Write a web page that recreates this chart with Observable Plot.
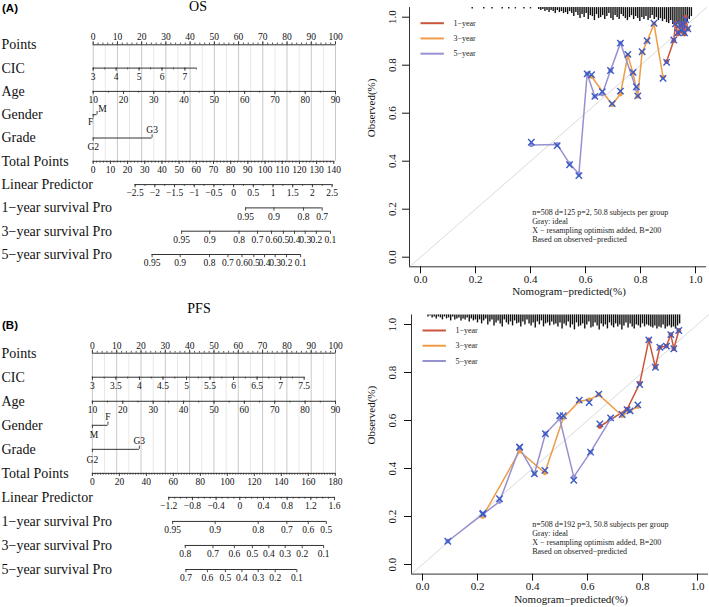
<!DOCTYPE html>
<html>
<head>
<meta charset="utf-8">
<script src="https://cdn.jsdelivr.net/npm/d3@7"></script>
<script src="https://cdn.jsdelivr.net/npm/@observablehq/plot@0.6"></script>
<style>
  html, body { margin: 0; padding: 0; background: #fff; }
  #fig { position: relative; width: 709px; height: 607px; overflow: hidden; background: #fff; }
  .panel { position: absolute; }
  .panel svg { display: block; overflow: visible; }
  .tag { position: absolute; font-family: "Liberation Sans", Arial, sans-serif; font-weight: bold; font-size: 11.5px; line-height: 12px; color: #000; }
  .ttl { position: absolute; font-family: "Liberation Serif", "Times New Roman", serif; font-size: 14px; line-height: 14px; text-align: center; color: #000; }
</style>
</head>
<body>
<div id="fig"></div>
<script>
const SERIF = "'Liberation Serif', 'Times New Roman', serif";
const fmt = d3.format("~g");

// ================= DATA =================
const nomoRows = ["Points","CIC","Age","Gender","Grade","Total Points","Linear Predictor","1\u2212year survival Pro","3\u2212year survival Pro","5\u2212year survival Pro"];

// ---- (A) OS nomogram ----
const osPointsLabels = [0,10,20,30,40,50,60,70,80,90,100];
const osCicLabels = [3,4,5,6,7];
const osCicValueRange = [3, 7.5];
const osCicPointRange = [0, 42.6];
const osAgeLabels = [10,20,30,40,50,60,70,80,90];
const osAgeValueRange = [10, 90];
const osAgePointRange = [0, 100];
const osGenderLabels = ["F","M"];
const osGenderPoints = [0, 1.6];
const osGradeLabels = ["G2","G3"];
const osGradePoints = [0, 24.3];
const osTotalLabels = [0,10,20,30,40,50,60,70,80,90,100,110,120,130,140];
const osTotalValueRange = [0, 140];
const osTotalPointRange = [0, 99.3];
const osLpLabels = [-2.5,-2,-1.5,-1,-0.5,0,0.5,1,1.5,2,2.5];
const osLpValueRange = [-2.5, 2.5];
const osLpPointRange = [17.3, 98.6];
const os1yLabels = [0.95,0.9,0.8,0.7];
const os1yPoints = [62.9,74.6,86.8,94.5];
const os3yLabels = [0.95,0.9,0.8,0.7,0.6,0.5,0.4,0.3,0.2,0.1];
const os3yPoints = [36.5,48.1,60.2,67.8,73.6,78.5,83.1,87.5,92.1,97.9];
const os5yLabels = [0.95,0.9,0.8,0.7,0.6,0.5,0.4,0.3,0.2,0.1];
const os5yPoints = [24.3,35.9,48.0,55.6,61.4,66.3,70.7,75.1,79.8,85.6];

// ---- (B) PFS nomogram ----
const pfsPointsLabels = [0,10,20,30,40,50,60,70,80,90,100];
const pfsCicLabels = [3,3.5,4,4.5,5,5.5,6,6.5,7,7.5];
const pfsCicValueRange = [3, 7.5];
const pfsCicPointRange = [0, 87.1];
const pfsAgeLabels = [10,20,30,40,50,60,70,80,90];
const pfsAgeValueRange = [10, 90];
const pfsAgePointRange = [0, 100];
const pfsGenderLabels = ["M","F"];
const pfsGenderPoints = [0, 6.4];
const pfsGradeLabels = ["G2","G3"];
const pfsGradePoints = [0, 19.3];
const pfsTotalLabels = [0,20,40,60,80,100,120,140,160,180];
const pfsTotalValueRange = [0, 180];
const pfsTotalPointRange = [0, 99.9];
const pfsLpLabels = [-1.2,-0.8,-0.4,0,0.4,0.8,1.2,1.6];
const pfsLpValueRange = [-1.2, 1.6];
const pfsLpPointRange = [31.4, 99.6];
const pfs1yLabels = [0.95,0.9,0.8,0.7,0.6,0.5];
const pfs1yPoints = [33.0,50.5,68.2,80.0,88.8,96.2];
const pfs3yLabels = [0.8,0.7,0.6,0.5,0.4,0.3,0.2,0.1];
const pfs3yPoints = [38.2,49.6,58.4,65.8,72.6,79.3,86.3,95.1];
const pfs5yLabels = [0.7,0.6,0.5,0.4,0.3,0.2,0.1];
const pfs5yPoints = [38.5,47.3,54.7,61.5,68.2,75.2,84.1];

// ---- calibration curves ----
const calSeries = ["1\u2212year","3\u2212year","5\u2212year"];
const calTicks = [0,0.2,0.4,0.6,0.8,1.0];

// OS
const os1yPred = [0.895,0.921,0.927,0.936,0.945,0.950,0.956,0.960,0.964,0.972];
const os1yObs  = [0.815,0.903,0.975,0.930,0.972,0.940,0.975,0.930,1.000,0.950];
const os1yCorr = [0.812,0.905,0.972,0.935,0.968,0.945,0.970,0.935,0.990,0.952];
const os3yPred = [0.622,0.697,0.727,0.754,0.773,0.790,0.806,0.824,0.849,0.882];
const os3yObs  = [0.753,0.635,0.680,0.840,0.767,0.670,0.854,0.900,0.972,0.750];
const os3yCorr = [0.760,0.640,0.692,0.845,0.770,0.672,0.856,0.902,0.975,0.745];
const os5yPred = [0.403,0.497,0.542,0.576,0.606,0.634,0.661,0.691,0.727,0.785];
const os5yObs  = [0.468,0.470,0.390,0.347,0.764,0.670,0.680,0.778,0.892,0.700];
const os5yCorr = [0.479,0.465,0.385,0.340,0.764,0.670,0.690,0.778,0.892,0.710];
const osSparsePred = [0.188,0.230,0.260,0.297,0.321,0.345,0.376,0.400];
const osSpikeStart = 0.43, osSpikeBin = 0.0075;
const osSpikeCounts = [2,3,2,4,3,5,3,4,6,3,5,4,6,5,7,4,
  6,9,5,8,11,7,10,6,12,8,9,13,7,11,10,8,12,9,6,11,13,8,10,12,7,9,11,13,10,8,12,9,11,14,10,12,9,13,11,8,12,10,13,11,
  14,12,15,16,13,17,18,16,17,18,17,15,14,12,9];

// PFS
const pfs1yPred = [0.645,0.744,0.790,0.823,0.847,0.863,0.887,0.903,0.914,0.932];
const pfs1yObs  = [0.575,0.647,0.755,0.936,0.822,0.905,0.910,0.958,0.899,0.975];
const pfs1yCorr = [0.586,0.645,0.750,0.936,0.822,0.905,0.910,0.958,0.899,0.975];
const pfs3yPred = [0.219,0.353,0.445,0.512,0.570,0.606,0.641,0.726,0.755,0.783];
const pfs3yObs  = [0.200,0.472,0.382,0.611,0.680,0.686,0.708,0.620,0.640,0.658];
const pfs3yCorr = [0.210,0.489,0.392,0.620,0.685,0.675,0.710,0.625,0.640,0.665];
const pfs5yPred = [0.092,0.220,0.280,0.353,0.407,0.447,0.499,0.550,0.611,0.684];
const pfs5yObs  = [0.097,0.210,0.262,0.485,0.378,0.545,0.607,0.365,0.468,0.607];
const pfs5yCorr = [0.097,0.213,0.274,0.489,0.378,0.545,0.620,0.351,0.468,0.611];
const pfsSparsePred = [];
const pfsSpikeStart = 0.02, pfsSpikeBin = 0.0075;
const pfsSpikeCounts = [2,1,3,2,4,2,3,5,2,4,3,6,2,5,4,3,6,4,5,3,7,4,6,5,
  8,5,9,6,4,10,7,5,11,8,6,9,12,5,8,10,7,11,6,9,8,12,7,10,5,9,11,8,13,7,10,6,12,9,8,11,7,10,9,
  12,8,14,9,11,7,13,10,15,8,12,11,9,14,10,7,13,12,8,11,15,9,12,10,14,8,11,13,9,12,10,15,11,8,13,9,12,14,10,11,13,9,12,10,11,
  12,13,11,14,12,13,10,14,12,11,13,12,14,11,9];

// ================= BUILDERS =================
function buildNomo(axes, rows) {
  const rowIndex = new Map(rows.map((r, i) => [r, i]));
  const lines = [], major = [], minor = [], labels = [];
  for (const a of axes) {
    const i = rowIndex.get(a.row);
    let pos;
    if (a.domain) {
      const s = d3.scaleLinear(a.domain, a.range);
      pos = a.labels.map(s);
      lines.push({y: i, x1: s(a.domain[0]), x2: s(a.domain[1])});
      if (a.minor) d3.range(a.domain[0], a.domain[1] + 1e-9, a.minor).forEach(v => minor.push({x: s(v), y: i, side: a.side}));
    } else {
      pos = a.at;
      lines.push({y: i, x1: d3.min(pos), x2: d3.max(pos)});
    }
    a.labels.forEach((lab, k) => {
      const side = a.sides ? a.sides[k] : a.side;
      const dy = side === "above" ? (a.aboveDy ?? -8) : (a.belowDy ?? 8.7);
      const dxPx = a.dxs ? a.dxs[k] : 0;
      major.push({x: pos[k], y: i, side});
      labels.push({x: pos[k], y: i, side, dy, dxPx, text: typeof lab === "number" ? fmt(lab) : lab});
    });
  }
  return {lines, major, minor, labels};
}

function drawNomo(axes, rows, o) {
  const b = buildNomo(axes, rows);
  const rowPx = (o.yRange[1] - o.yRange[0]) / (rows.length - 1);
  const ptPx = (o.xRange[1] - o.xRange[0]) / 100;
  const L = px => px / rowPx;
  const dir = d => d.side === "above" ? -1 : 1;
  const totalIdx = rows.indexOf("Total Points");
  const gridMajor = d3.range(0, 100.001, 10);
  const gridMinor = d3.range(5, 100, 10);
  const labelMarks = Array.from(d3.group(b.labels, d => d.dy), ([dy, arr]) =>
    Plot.text(arr, {x: d => d.x + d.dxPx / ptPx, y: "y", text: "text", dy, fontSize: 9.5, fill: "#111", fontFamily: SERIF}));
  return Plot.plot({
    width: o.width, height: o.height,
    marginLeft: 0, marginRight: 0, marginTop: 0, marginBottom: 0,
    x: {domain: [0, 100], range: o.xRange, axis: null},
    y: {domain: [0, rows.length - 1], range: o.yRange, axis: null},
    style: {fontFamily: SERIF, background: "transparent", color: "#111"},
    marks: [
      Plot.ruleX(gridMinor, {x: d => d, y1: 0, y2: totalIdx, stroke: "#e8e8e8", strokeWidth: 1}),
      Plot.ruleX(gridMajor, {x: d => d, y1: 0, y2: totalIdx, stroke: "#c9c9c9", strokeWidth: 1}),
      Plot.ruleY(b.lines, {y: "y", x1: "x1", x2: "x2", stroke: "#333", strokeWidth: 1}),
      Plot.ruleX(b.minor, {x: "x", y1: "y", y2: d => d.y + dir(d) * L(1.8), stroke: "#333", strokeWidth: 0.8}),
      Plot.ruleX(b.major, {x: "x", y1: "y", y2: d => d.y + dir(d) * L(3.2), stroke: "#333", strokeWidth: 0.9}),
      ...labelMarks,
      Plot.text(rows, {y: (d, i) => i, text: d => d, frameAnchor: "left", dx: 1, textAnchor: "start", fontSize: 14, fill: "#111", fontFamily: SERIF})
    ]
  });
}

function drawCal(d, o) {
  const colors = ["#C9553A", "#EE9C45", "#9692D0"];
  const rows = [];
  d.series.forEach((s, si) => s.pred.forEach((p, k) => rows.push({series: calSeries[si], pred: p, obs: s.obs[k], corr: s.corr[k]})));
  const spikes = d.counts.map((n, k) => ({x: d.start + k * d.bin, n}))
    .concat(d.sparse.map(x => ({x, n: 1.3})));
  const dom = [-0.04, 1.04];
  const spikeUnit = 1 / 240;
  const legTop = 0.975, legStep = 0.0635;
  const legend = calSeries.map((s, i) => ({s, y: legTop - i * legStep}));
  return Plot.plot({
    width: 349, height: o.height,
    marginLeft: o.ml, marginRight: o.mr, marginTop: o.mt, marginBottom: o.mb,
    x: {domain: dom, axis: null},
    y: {domain: dom, axis: null},
    color: {domain: calSeries, range: colors},
    style: {fontFamily: SERIF, background: "transparent", color: "#111"},
    marks: [
      Plot.ruleX(spikes, {x: "x", y1: dom[1], y2: s => dom[1] - s.n * spikeUnit, stroke: "#111", strokeWidth: 1.4}),
      Plot.line(dom, {x: v => v, y: v => v, stroke: "#dadada", strokeWidth: 1}),
      Plot.ruleX([dom[0]], {y1: dom[0], y2: dom[1], stroke: "#333", strokeWidth: 1}),
      Plot.ruleY([dom[0]], {x1: dom[0], x2: dom[1], stroke: "#333", strokeWidth: 1}),
      Plot.axisX(calTicks, {anchor: "bottom", tickSize: 7, tickPadding: o.xPad, fontSize: 11, fontFamily: SERIF, tickFormat: d3.format(".1f"), label: null}),
      Plot.axisY(calTicks, {anchor: "left", tickSize: 7, tickPadding: o.yPad, tickRotate: -90, fontSize: 11, fontFamily: SERIF, tickFormat: d3.format(".1f"), label: null}),
      Plot.text(["Nomogram\u2212predicted(%)"], {x: 0.54, frameAnchor: "bottom", dy: o.xTitleDy, fontSize: 11, fill: "#111", fontFamily: SERIF}),
      Plot.text(["Observed(%)"], {y: 0.5, frameAnchor: "left", dx: o.yTitleDx, rotate: -90, fontSize: 11, fill: "#111", fontFamily: SERIF}),
      Plot.line(rows, {x: "pred", y: "obs", z: "series", stroke: "series", strokeWidth: 1.5}),
      Plot.dot(rows, {x: "pred", y: "obs", fill: "series", r: 2.4}),
      Plot.dot(rows, {x: "pred", y: "corr", symbol: "times", stroke: "#3A5BC7", r: 3, strokeWidth: 1.4}),
      Plot.link(legend, {x1: 0, x2: 0.085, y1: "y", y2: "y", stroke: "s", strokeWidth: 2}),
      Plot.text(legend, {x: 0.12, y: "y", text: "s", textAnchor: "start", fontSize: 8, fill: "#222", fontFamily: SERIF}),
      Plot.text([d.note.join("\n")], {x: o.noteX, y: o.noteY, textAnchor: "start", lineAnchor: "top", lineHeight: 1.15, fontSize: 8, fill: "#222", fontFamily: SERIF})
    ]
  });
}

// ================= ASSEMBLE =================
const fig = document.getElementById("fig");
function place(node, left, top) {
  const div = document.createElement("div");
  div.className = "panel";
  div.style.left = left + "px";
  div.style.top = top + "px";
  div.appendChild(node);
  fig.appendChild(div);
}
function label(cls, text, css) {
  const div = document.createElement("div");
  div.className = cls;
  div.textContent = text;
  Object.assign(div.style, css);
  fig.appendChild(div);
}

const osAxes = [
  {row: "Points", labels: osPointsLabels, domain: [0, 100], range: [0, 100], minor: 2, side: "above", aboveDy: -7.6},
  {row: "CIC", labels: osCicLabels, domain: osCicValueRange, range: osCicPointRange, minor: 0.5, side: "below"},
  {row: "Age", labels: osAgeLabels, domain: osAgeValueRange, range: osAgePointRange, minor: 5, side: "below"},
  {row: "Gender", labels: osGenderLabels, at: osGenderPoints, sides: ["below", "above"], dxs: [-2.5, 5.5], aboveDy: -5.8, belowDy: 7},
  {row: "Grade", labels: osGradeLabels, at: osGradePoints, sides: ["below", "above"], aboveDy: -8.4},
  {row: "Total Points", labels: osTotalLabels, domain: osTotalValueRange, range: osTotalPointRange, minor: 2, side: "below"},
  {row: "Linear Predictor", labels: osLpLabels, domain: osLpValueRange, range: osLpPointRange, minor: 0.25, side: "below"},
  {row: nomoRows[7], labels: os1yLabels, at: os1yPoints, side: "below"},
  {row: nomoRows[8], labels: os3yLabels, at: os3yPoints, side: "below"},
  {row: nomoRows[9], labels: os5yLabels, at: os5yPoints, side: "below"}
];
const pfsAxes = [
  {row: "Points", labels: pfsPointsLabels, domain: [0, 100], range: [0, 100], minor: 2, side: "above", aboveDy: -7.6},
  {row: "CIC", labels: pfsCicLabels, domain: pfsCicValueRange, range: pfsCicPointRange, minor: 0.25, side: "below"},
  {row: "Age", labels: pfsAgeLabels, domain: pfsAgeValueRange, range: pfsAgePointRange, minor: 5, side: "below"},
  {row: "Gender", labels: pfsGenderLabels, at: pfsGenderPoints, sides: ["below", "above"], dxs: [1.5, 0], aboveDy: -8, belowDy: 9.5},
  {row: "Grade", labels: pfsGradeLabels, at: pfsGradePoints, sides: ["below", "above"], aboveDy: -8.4, belowDy: 10.5},
  {row: "Total Points", labels: pfsTotalLabels, domain: pfsTotalValueRange, range: pfsTotalPointRange, minor: 2, side: "below"},
  {row: "Linear Predictor", labels: pfsLpLabels, domain: pfsLpValueRange, range: pfsLpPointRange, minor: 0.1, side: "below"},
  {row: nomoRows[7], labels: pfs1yLabels, at: pfs1yPoints, side: "below"},
  {row: nomoRows[8], labels: pfs3yLabels, at: pfs3yPoints, side: "below"},
  {row: nomoRows[9], labels: pfs5yLabels, at: pfs5yPoints, side: "below"}
];

place(drawNomo(osAxes, nomoRows, {width: 360, height: 290, xRange: [92.7, 335], yRange: [44.3, 254]}), 0, 0);
place(drawNomo(pfsAxes, nomoRows, {width: 360, height: 307, xRange: [91.9, 335], yRange: [52.7, 269]}), 0, 300);

place(drawCal({
  series: [
    {pred: os1yPred, obs: os1yObs, corr: os1yCorr},
    {pred: os3yPred, obs: os3yObs, corr: os3yCorr},
    {pred: os5yPred, obs: os5yObs, corr: os5yCorr}
  ],
  counts: osSpikeCounts, start: osSpikeStart, bin: osSpikeBin, sparse: osSparsePred,
  note: ["n=508 d=125 p=2, 50.8 subjects per group", "Gray: ideal", "X \u2212 resampling optimism added, B=200", "Based on observed\u2212predicted"]
}, {height: 300, ml: 49, mr: 3, mt: 7.1, mb: 33.7, xPad: 1, yPad: 6.5, xTitleDy: 28.5, yTitleDx: -38, noteX: 0.406, noteY: 0.204}), 360, 0);

place(drawCal({
  series: [
    {pred: pfs1yPred, obs: pfs1yObs, corr: pfs1yCorr},
    {pred: pfs3yPred, obs: pfs3yObs, corr: pfs3yCorr},
    {pred: pfs5yPred, obs: pfs5yObs, corr: pfs5yCorr}
  ],
  counts: pfsSpikeCounts, start: pfsSpikeStart, bin: pfsSpikeBin, sparse: pfsSparsePred,
  note: ["n=508 d=192 p=3, 50.8 subjects per group", "Gray: ideal", "X \u2212 resampling optimism added, B=200", "Based on observed\u2212predicted"]
}, {height: 307, ml: 51, mr: 1, mt: 14.4, mb: 33.4, xPad: 1.5, yPad: 8.5, xTitleDy: 28.5, yTitleDx: -40, noteX: 0.399, noteY: 0.184}), 360, 300);

label("tag", "(A)", {left: "2px", top: "2px"});
label("ttl", "OS", {left: "0px", top: "0px", width: "396px"});
label("tag", "(B)", {left: "2px", top: "319px"});
label("ttl", "PFS", {left: "0px", top: "302px", width: "398px"});
</script>
</body>
</html>
